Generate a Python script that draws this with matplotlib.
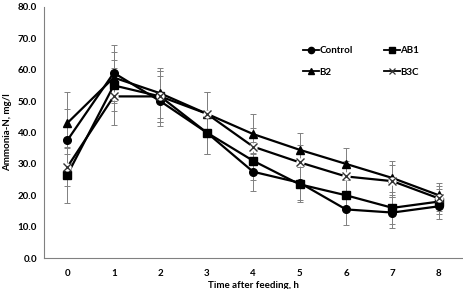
import matplotlib.pyplot as plt

# Hours after feeding
hours = [0, 1, 2, 3, 4, 5, 6, 7, 8]

# Mean ammonia-N (mg/l) per treatment
control = [37.5, 59.0, 50.0, 40.0, 27.5, 24.0, 15.5, 14.5, 16.5]
ab1 = [26.5, 55.0, 51.5, 40.0, 31.0, 23.5, 20.0, 16.0, 18.0]
b2 = [43.0, 57.5, 52.5, 46.0, 39.5, 34.5, 30.0, 25.5, 20.0]
b3c = [29.0, 51.5, 51.5, 46.0, 35.5, 30.5, 26.0, 24.5, 19.0]

# Error bar half-widths
control_err = [10.0, 9.0, 8.0, 7.0, 6.0, 5.5, 5.0, 5.0, 4.0]
ab1_err = [9.0, 8.0, 8.0, 7.0, 6.0, 5.5, 5.0, 5.0, 4.0]
b2_err = [10.0, 8.0, 8.0, 7.0, 6.5, 5.5, 5.0, 5.5, 4.0]
b3c_err = [6.0, 9.0, 8.0, 7.0, 6.0, 5.5, 5.0, 5.0, 4.0]

yticks = [0, 10, 20, 30, 40, 50, 60, 70, 80]

plt.rcParams['font.family'] = ['Lato', 'DejaVu Sans']
plt.rcParams['font.weight'] = 'bold'

fig = plt.figure(figsize=(4.64, 2.89), dpi=100)
ax = fig.add_axes([0.095, 0.107, 0.901, 0.869])

series = [
    ('Control', control, control_err, 'o', 'black', 5.5),
    ('AB1', ab1, ab1_err, 's', 'black', 5.5),
    ('B2', b2, b2_err, '^', 'black', 5.5),
    ('B3C', b3c, b3c_err, 'x', 'white', 5.5),
]

for name, vals, err, mk, fc, ms in series:
    ax.errorbar(hours, vals, yerr=err, fmt='none', ecolor='#808080',
                elinewidth=0.7, capsize=2.5, capthick=0.7, zorder=1)

handles = {}
for name, vals, err, mk, fc, ms in series:
    if mk == 'x':
        ax.plot(hours, vals, color='black', lw=1.6, zorder=2)
        ax.plot(hours, vals, linestyle='none', marker='o', ms=6,
                mfc='white', mec='none', zorder=3)
        ax.plot(hours, vals, linestyle='none', marker='x', ms=5.5,
                mec='#333333', mew=1.0, zorder=4)
        h, = ax.plot([], [], color='black', lw=1.3, marker='x', ms=4,
                     mec='#333333', mew=0.9)
    else:
        ax.plot(hours, vals, color='black', lw=1.6, marker=mk, ms=ms,
                mfc=fc, mec='black', zorder=3)
        h, = ax.plot([], [], color='black', lw=1.3, marker=mk, ms=4.5,
                     mfc=fc, mec='black')
    handles[name] = h

ax.set_xlim(-0.5, 8.5)
ax.set_ylim(0, 80)
ax.set_xticks(hours)
ax.set_yticks(yticks)
ax.set_yticklabels(['%.1f' % v for v in yticks])
ax.tick_params(length=0, labelsize=7, pad=8)
ax.tick_params(axis='y', pad=5)

for s in ['top', 'right']:
    ax.spines[s].set_visible(False)
for s in ['left', 'bottom']:
    ax.spines[s].set_color('#808080')
    ax.spines[s].set_linewidth(0.8)

ax.set_ylabel('Ammonia-N, mg/l', fontsize=7, fontweight='bold', labelpad=4)
ax.set_xlabel('Time after feeding, h', fontsize=7, fontweight='bold', labelpad=2)

# order so rows read Control, AB1 / B2, B3C
order = ['Control', 'B2', 'AB1', 'B3C']
ax.legend([handles[n] for n in order], order, ncol=2, frameon=False, fontsize=7,
          loc='upper left', bbox_to_anchor=(0.61, 0.86),
          handlelength=1.6, handletextpad=0.1, columnspacing=3.2,
          labelspacing=1.3, borderaxespad=0)

fig.savefig('out.png', dpi=100)
